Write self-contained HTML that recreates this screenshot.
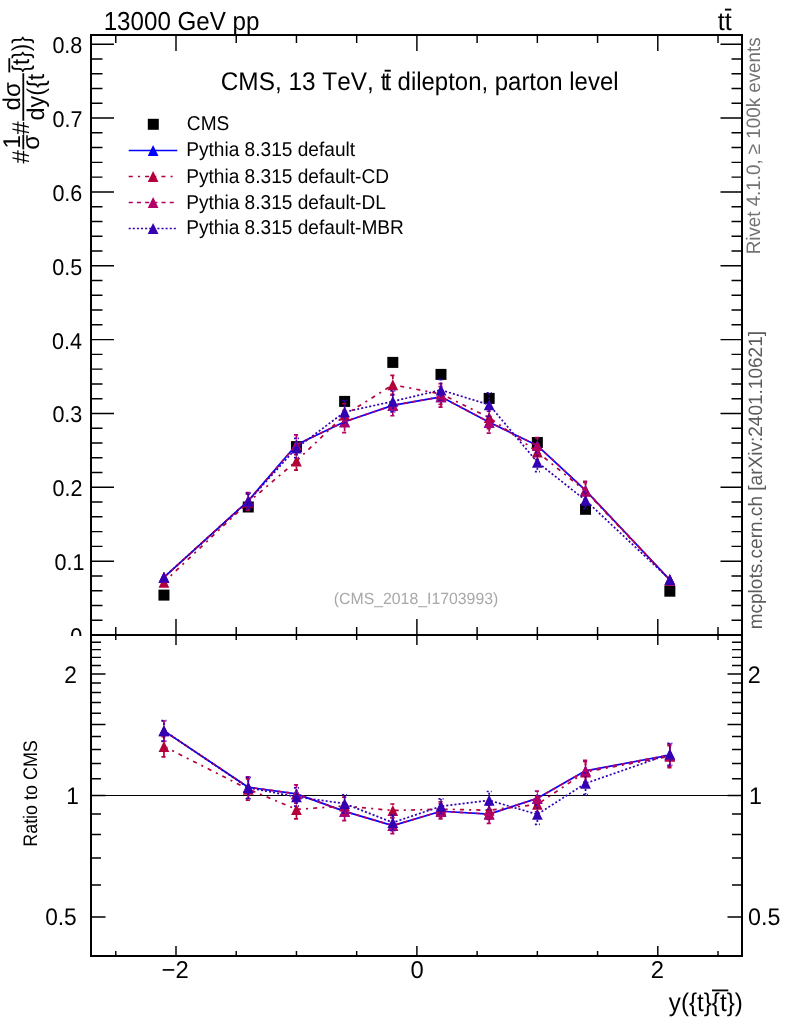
<!DOCTYPE html>
<html><head><meta charset="utf-8"><title>plot</title>
<style>html,body{margin:0;padding:0;background:#fff}svg{display:block;will-change:transform;opacity:0.999}svg text{text-rendering:geometricPrecision;font-kerning:none;font-variant-ligatures:none}</style></head>
<body>
<svg width="786" height="1024" viewBox="0 0 786 1024">
<rect width="786" height="1024" fill="#fff"/>
<g id="main">
<rect x="158.45" y="589.60" width="11.0" height="11.0" fill="#000"/>
<rect x="242.77" y="501.50" width="11.0" height="11.0" fill="#000"/>
<rect x="290.95" y="441.10" width="11.0" height="11.0" fill="#000"/>
<rect x="339.13" y="395.90" width="11.0" height="11.0" fill="#000"/>
<rect x="387.31" y="356.90" width="11.0" height="11.0" fill="#000"/>
<rect x="435.49" y="368.90" width="11.0" height="11.0" fill="#000"/>
<rect x="483.67" y="392.90" width="11.0" height="11.0" fill="#000"/>
<rect x="531.85" y="437.00" width="11.0" height="11.0" fill="#000"/>
<rect x="580.03" y="503.80" width="11.0" height="11.0" fill="#000"/>
<rect x="664.35" y="585.70" width="11.0" height="11.0" fill="#000"/>
<polyline points="163.95,577.30 248.27,500.80 296.45,444.80 344.63,421.70 392.81,405.40 440.99,396.80 489.17,422.20 537.35,445.60 585.53,490.30 669.85,579.80" fill="none" stroke="#0000ff" stroke-width="1.7" stroke-linejoin="round"/>
<path d="M158.60 582.75L169.30 582.75L163.95 571.85Z" fill="#0000ff"/>
<path d="M242.92 506.25L253.62 506.25L248.27 495.35Z" fill="#0000ff"/>
<path d="M291.10 450.25L301.80 450.25L296.45 439.35Z" fill="#0000ff"/>
<path d="M339.28 427.15L349.98 427.15L344.63 416.25Z" fill="#0000ff"/>
<path d="M387.46 410.85L398.16 410.85L392.81 399.95Z" fill="#0000ff"/>
<path d="M435.64 402.25L446.34 402.25L440.99 391.35Z" fill="#0000ff"/>
<path d="M483.82 427.65L494.52 427.65L489.17 416.75Z" fill="#0000ff"/>
<path d="M532.00 451.05L542.70 451.05L537.35 440.15Z" fill="#0000ff"/>
<path d="M580.18 495.75L590.88 495.75L585.53 484.85Z" fill="#0000ff"/>
<path d="M664.50 585.25L675.20 585.25L669.85 574.35Z" fill="#0000ff"/>
<polyline points="163.95,582.20 248.27,502.30 296.45,461.00 344.63,415.00 392.81,384.80 440.99,394.00 489.17,417.50 537.35,452.00 585.53,491.20 669.85,580.20" fill="none" stroke="#b3003a" stroke-width="1.7" stroke-dasharray="4.1 5.1 2.05 5.1" stroke-linejoin="round"/>

<path d="M248.27 496.80V494.21M245.77 494.21h5.0M248.27 507.80V510.39M245.77 510.39h5.0" stroke="#b3003a" stroke-width="1.7" fill="none" stroke-dasharray="4.1 5.1 2.05 5.1"/>
<path d="M296.45 455.50V451.95M293.95 451.95h5.0M296.45 466.50V470.05M293.95 470.05h5.0" stroke="#b3003a" stroke-width="1.7" fill="none" stroke-dasharray="4.1 5.1 2.05 5.1"/>
<path d="M344.63 409.50V403.67M342.13 403.67h5.0M344.63 420.50V426.33M342.13 426.33h5.0" stroke="#b3003a" stroke-width="1.7" fill="none" stroke-dasharray="4.1 5.1 2.05 5.1"/>
<path d="M392.81 379.30V375.29M390.31 375.29h5.0M392.81 390.30V394.31M390.31 394.31h5.0" stroke="#b3003a" stroke-width="1.7" fill="none" stroke-dasharray="4.1 5.1 2.05 5.1"/>
<path d="M440.99 388.50V383.64M438.49 383.64h5.0M440.99 399.50V404.36M438.49 404.36h5.0" stroke="#b3003a" stroke-width="1.7" fill="none" stroke-dasharray="4.1 5.1 2.05 5.1"/>
<path d="M489.17 412.00V406.30M486.67 406.30h5.0M489.17 423.00V428.70M486.67 428.70h5.0" stroke="#b3003a" stroke-width="1.7" fill="none" stroke-dasharray="4.1 5.1 2.05 5.1"/>
<path d="M537.35 446.50V444.31M534.85 444.31h5.0M537.35 457.50V459.69M534.85 459.69h5.0" stroke="#b3003a" stroke-width="1.7" fill="none" stroke-dasharray="4.1 5.1 2.05 5.1"/>
<path d="M585.53 485.70V482.28M583.03 482.28h5.0M585.53 496.70V500.12M583.03 500.12h5.0" stroke="#b3003a" stroke-width="1.7" fill="none" stroke-dasharray="4.1 5.1 2.05 5.1"/>

<path d="M158.60 587.65L169.30 587.65L163.95 576.75Z" fill="#b3003a"/>
<path d="M242.92 507.75L253.62 507.75L248.27 496.85Z" fill="#b3003a"/>
<path d="M291.10 466.45L301.80 466.45L296.45 455.55Z" fill="#b3003a"/>
<path d="M339.28 420.45L349.98 420.45L344.63 409.55Z" fill="#b3003a"/>
<path d="M387.46 390.25L398.16 390.25L392.81 379.35Z" fill="#b3003a"/>
<path d="M435.64 399.45L446.34 399.45L440.99 388.55Z" fill="#b3003a"/>
<path d="M483.82 422.95L494.52 422.95L489.17 412.05Z" fill="#b3003a"/>
<path d="M532.00 457.45L542.70 457.45L537.35 446.55Z" fill="#b3003a"/>
<path d="M580.18 496.65L590.88 496.65L585.53 485.75Z" fill="#b3003a"/>
<path d="M664.50 585.65L675.20 585.65L669.85 574.75Z" fill="#b3003a"/>
<polyline points="163.95,577.30 248.27,500.80 296.45,444.80 344.63,421.70 392.81,405.40 440.99,396.80 489.17,422.20 537.35,445.60 585.53,490.30 669.85,579.80" fill="none" stroke="#b30066" stroke-width="1.7" stroke-dasharray="4.1 4.1" stroke-linejoin="round"/>

<path d="M248.27 495.30V492.61M245.77 492.61h5.0M248.27 506.30V508.99M245.77 508.99h5.0" stroke="#b30066" stroke-width="1.7" fill="none" stroke-dasharray="4.1 4.1"/>
<path d="M296.45 439.30V434.91M293.95 434.91h5.0M296.45 450.30V454.69M293.95 454.69h5.0" stroke="#b30066" stroke-width="1.7" fill="none" stroke-dasharray="4.1 4.1"/>
<path d="M344.63 416.20V410.72M342.13 410.72h5.0M344.63 427.20V432.68M342.13 432.68h5.0" stroke="#b30066" stroke-width="1.7" fill="none" stroke-dasharray="4.1 4.1"/>
<path d="M392.81 399.90V395.07M390.31 395.07h5.0M392.81 410.90V415.73M390.31 415.73h5.0" stroke="#b30066" stroke-width="1.7" fill="none" stroke-dasharray="4.1 4.1"/>
<path d="M440.99 391.30V386.56M438.49 386.56h5.0M440.99 402.30V407.04M438.49 407.04h5.0" stroke="#b30066" stroke-width="1.7" fill="none" stroke-dasharray="4.1 4.1"/>
<path d="M489.17 416.70V411.24M486.67 411.24h5.0M489.17 427.70V433.16M486.67 433.16h5.0" stroke="#b30066" stroke-width="1.7" fill="none" stroke-dasharray="4.1 4.1"/>
<path d="M537.35 440.10V437.65M534.85 437.65h5.0M537.35 451.10V453.55M534.85 453.55h5.0" stroke="#b30066" stroke-width="1.7" fill="none" stroke-dasharray="4.1 4.1"/>
<path d="M585.53 484.80V481.33M583.03 481.33h5.0M585.53 495.80V499.27M583.03 499.27h5.0" stroke="#b30066" stroke-width="1.7" fill="none" stroke-dasharray="4.1 4.1"/>

<path d="M158.60 582.75L169.30 582.75L163.95 571.85Z" fill="#b30066"/>
<path d="M242.92 506.25L253.62 506.25L248.27 495.35Z" fill="#b30066"/>
<path d="M291.10 450.25L301.80 450.25L296.45 439.35Z" fill="#b30066"/>
<path d="M339.28 427.15L349.98 427.15L344.63 416.25Z" fill="#b30066"/>
<path d="M387.46 410.85L398.16 410.85L392.81 399.95Z" fill="#b30066"/>
<path d="M435.64 402.25L446.34 402.25L440.99 391.35Z" fill="#b30066"/>
<path d="M483.82 427.65L494.52 427.65L489.17 416.75Z" fill="#b30066"/>
<path d="M532.00 451.05L542.70 451.05L537.35 440.15Z" fill="#b30066"/>
<path d="M580.18 495.75L590.88 495.75L585.53 484.85Z" fill="#b30066"/>
<path d="M664.50 585.25L675.20 585.25L669.85 574.35Z" fill="#b30066"/>
<polyline points="163.95,577.20 248.27,501.20 296.45,448.00 344.63,412.00 392.81,401.40 440.99,390.00 489.17,404.80 537.35,462.20 585.53,500.30 669.85,579.50" fill="none" stroke="#3300b3" stroke-width="1.7" stroke-dasharray="2.05 2.05" stroke-linejoin="round"/>

<path d="M248.27 495.70V493.04M245.77 493.04h5.0M248.27 506.70V509.36M245.77 509.36h5.0" stroke="#3300b3" stroke-width="1.7" fill="none" stroke-dasharray="2.05 2.05"/>
<path d="M296.45 442.50V438.28M293.95 438.28h5.0M296.45 453.50V457.72M293.95 457.72h5.0" stroke="#3300b3" stroke-width="1.7" fill="none" stroke-dasharray="2.05 2.05"/>
<path d="M344.63 406.50V400.52M342.13 400.52h5.0M344.63 417.50V423.48M342.13 423.48h5.0" stroke="#3300b3" stroke-width="1.7" fill="none" stroke-dasharray="2.05 2.05"/>
<path d="M392.81 395.90V390.89M390.31 390.89h5.0M392.81 406.90V411.91M390.31 411.91h5.0" stroke="#3300b3" stroke-width="1.7" fill="none" stroke-dasharray="2.05 2.05"/>
<path d="M440.99 384.50V379.46M438.49 379.46h5.0M440.99 395.50V400.54M438.49 400.54h5.0" stroke="#3300b3" stroke-width="1.7" fill="none" stroke-dasharray="2.05 2.05"/>
<path d="M489.17 399.30V392.94M486.67 392.94h5.0M489.17 410.30V416.66M486.67 416.66h5.0" stroke="#3300b3" stroke-width="1.7" fill="none" stroke-dasharray="2.05 2.05"/>
<path d="M537.35 456.70V452.70M534.85 452.70h5.0M537.35 467.70V471.70M534.85 471.70h5.0" stroke="#3300b3" stroke-width="1.7" fill="none" stroke-dasharray="2.05 2.05"/>
<path d="M585.53 494.80V491.95M583.03 491.95h5.0M585.53 505.80V508.65M583.03 508.65h5.0" stroke="#3300b3" stroke-width="1.7" fill="none" stroke-dasharray="2.05 2.05"/>

<path d="M158.60 582.65L169.30 582.65L163.95 571.75Z" fill="#3300b3"/>
<path d="M242.92 506.65L253.62 506.65L248.27 495.75Z" fill="#3300b3"/>
<path d="M291.10 453.45L301.80 453.45L296.45 442.55Z" fill="#3300b3"/>
<path d="M339.28 417.45L349.98 417.45L344.63 406.55Z" fill="#3300b3"/>
<path d="M387.46 406.85L398.16 406.85L392.81 395.95Z" fill="#3300b3"/>
<path d="M435.64 395.45L446.34 395.45L440.99 384.55Z" fill="#3300b3"/>
<path d="M483.82 410.25L494.52 410.25L489.17 399.35Z" fill="#3300b3"/>
<path d="M532.00 467.65L542.70 467.65L537.35 456.75Z" fill="#3300b3"/>
<path d="M580.18 505.75L590.88 505.75L585.53 494.85Z" fill="#3300b3"/>
<path d="M664.50 584.95L675.20 584.95L669.85 574.05Z" fill="#3300b3"/>
</g>
<g id="ratio">
<path d="M91.0 795.50H742.0" stroke="#000" stroke-width="1.1"/>
<polyline points="163.95,730.89 248.27,787.21 296.45,793.83 344.63,811.42 392.81,825.57 440.99,811.24 489.17,814.07 537.35,798.34 585.53,770.84 669.85,754.98" fill="none" stroke="#0000ff" stroke-width="1.7" stroke-linejoin="round"/>
<path d="M158.60 736.34L169.30 736.34L163.95 725.44Z" fill="#0000ff"/>
<path d="M242.92 792.66L253.62 792.66L248.27 781.76Z" fill="#0000ff"/>
<path d="M291.10 799.28L301.80 799.28L296.45 788.38Z" fill="#0000ff"/>
<path d="M339.28 816.87L349.98 816.87L344.63 805.97Z" fill="#0000ff"/>
<path d="M387.46 831.02L398.16 831.02L392.81 820.12Z" fill="#0000ff"/>
<path d="M435.64 816.69L446.34 816.69L440.99 805.79Z" fill="#0000ff"/>
<path d="M483.82 819.52L494.52 819.52L489.17 808.62Z" fill="#0000ff"/>
<path d="M532.00 803.79L542.70 803.79L537.35 792.89Z" fill="#0000ff"/>
<path d="M580.18 776.29L590.88 776.29L585.53 765.39Z" fill="#0000ff"/>
<path d="M664.50 760.43L675.20 760.43L669.85 749.53Z" fill="#0000ff"/>
<polyline points="163.95,746.43 248.27,789.18 296.45,809.43 344.63,806.01 392.81,810.52 440.99,809.20 489.17,810.24 537.35,804.36 585.53,771.94 669.85,756.25" fill="none" stroke="#b3003a" stroke-width="1.7" stroke-dasharray="4.1 5.1 2.05 5.1" stroke-linejoin="round"/>
<path d="M163.95 740.93V736.56M161.45 736.56h5.0M163.95 751.93V756.90M161.45 756.90h5.0" stroke="#b3003a" stroke-width="1.7" fill="none" stroke-dasharray="4.1 5.1 2.05 5.1"/>
<path d="M248.27 783.68V778.81M245.77 778.81h5.0M248.27 794.68V800.21M245.77 800.21h5.0" stroke="#b3003a" stroke-width="1.7" fill="none" stroke-dasharray="4.1 5.1 2.05 5.1"/>
<path d="M296.45 803.93V800.55M293.95 800.55h5.0M296.45 814.93V818.78M293.95 818.78h5.0" stroke="#b3003a" stroke-width="1.7" fill="none" stroke-dasharray="4.1 5.1 2.05 5.1"/>
<path d="M344.63 800.51V797.21M342.13 797.21h5.0M344.63 811.51V815.27M342.13 815.27h5.0" stroke="#b3003a" stroke-width="1.7" fill="none" stroke-dasharray="4.1 5.1 2.05 5.1"/>
<path d="M392.81 805.02V803.99M390.31 803.99h5.0M392.81 816.02V817.31M390.31 817.31h5.0" stroke="#b3003a" stroke-width="1.7" fill="none" stroke-dasharray="4.1 5.1 2.05 5.1"/>
<path d="M440.99 803.70V801.82M438.49 801.82h5.0M440.99 814.70V816.89M438.49 816.89h5.0" stroke="#b3003a" stroke-width="1.7" fill="none" stroke-dasharray="4.1 5.1 2.05 5.1"/>
<path d="M489.17 804.74V801.45M486.67 801.45h5.0M489.17 815.74V819.51M486.67 819.51h5.0" stroke="#b3003a" stroke-width="1.7" fill="none" stroke-dasharray="4.1 5.1 2.05 5.1"/>
<path d="M537.35 798.86V797.16M534.85 797.16h5.0M537.35 809.86V811.88M534.85 811.88h5.0" stroke="#b3003a" stroke-width="1.7" fill="none" stroke-dasharray="4.1 5.1 2.05 5.1"/>
<path d="M585.53 766.44V761.40M583.03 761.40h5.0M585.53 777.44V783.15M583.03 783.15h5.0" stroke="#b3003a" stroke-width="1.7" fill="none" stroke-dasharray="4.1 5.1 2.05 5.1"/>
<path d="M669.85 750.75V745.55M667.35 745.55h5.0M669.85 761.75V767.65M667.35 767.65h5.0" stroke="#b3003a" stroke-width="1.7" fill="none" stroke-dasharray="4.1 5.1 2.05 5.1"/>
<path d="M158.60 751.88L169.30 751.88L163.95 740.98Z" fill="#b3003a"/>
<path d="M242.92 794.63L253.62 794.63L248.27 783.73Z" fill="#b3003a"/>
<path d="M291.10 814.88L301.80 814.88L296.45 803.98Z" fill="#b3003a"/>
<path d="M339.28 811.46L349.98 811.46L344.63 800.56Z" fill="#b3003a"/>
<path d="M387.46 815.97L398.16 815.97L392.81 805.07Z" fill="#b3003a"/>
<path d="M435.64 814.65L446.34 814.65L440.99 803.75Z" fill="#b3003a"/>
<path d="M483.82 815.69L494.52 815.69L489.17 804.79Z" fill="#b3003a"/>
<path d="M532.00 809.81L542.70 809.81L537.35 798.91Z" fill="#b3003a"/>
<path d="M580.18 777.39L590.88 777.39L585.53 766.49Z" fill="#b3003a"/>
<path d="M664.50 761.70L675.20 761.70L669.85 750.80Z" fill="#b3003a"/>
<polyline points="163.95,730.89 248.27,787.21 296.45,793.83 344.63,811.42 392.81,825.57 440.99,811.24 489.17,814.07 537.35,798.34 585.53,770.84 669.85,754.98" fill="none" stroke="#b30066" stroke-width="1.7" stroke-dasharray="4.1 4.1" stroke-linejoin="round"/>
<path d="M163.95 725.39V721.01M161.45 721.01h5.0M163.95 736.39V741.35M161.45 741.35h5.0" stroke="#b30066" stroke-width="1.7" fill="none" stroke-dasharray="4.1 4.1"/>
<path d="M248.27 781.71V776.84M245.77 776.84h5.0M248.27 792.71V798.24M245.77 798.24h5.0" stroke="#b30066" stroke-width="1.7" fill="none" stroke-dasharray="4.1 4.1"/>
<path d="M296.45 788.33V784.95M293.95 784.95h5.0M296.45 799.33V803.19M293.95 803.19h5.0" stroke="#b30066" stroke-width="1.7" fill="none" stroke-dasharray="4.1 4.1"/>
<path d="M344.63 805.92V802.63M342.13 802.63h5.0M344.63 816.92V820.69M342.13 820.69h5.0" stroke="#b30066" stroke-width="1.7" fill="none" stroke-dasharray="4.1 4.1"/>
<path d="M392.81 820.07V817.86M390.31 817.86h5.0M392.81 831.07V833.63M390.31 833.63h5.0" stroke="#b30066" stroke-width="1.7" fill="none" stroke-dasharray="4.1 4.1"/>
<path d="M440.99 805.74V803.87M438.49 803.87h5.0M440.99 816.74V818.94M438.49 818.94h5.0" stroke="#b30066" stroke-width="1.7" fill="none" stroke-dasharray="4.1 4.1"/>
<path d="M489.17 808.57V805.27M486.67 805.27h5.0M489.17 819.57V823.33M486.67 823.33h5.0" stroke="#b30066" stroke-width="1.7" fill="none" stroke-dasharray="4.1 4.1"/>
<path d="M537.35 792.84V791.14M534.85 791.14h5.0M537.35 803.84V805.86M534.85 805.86h5.0" stroke="#b30066" stroke-width="1.7" fill="none" stroke-dasharray="4.1 4.1"/>
<path d="M585.53 765.34V760.31M583.03 760.31h5.0M585.53 776.34V782.05M583.03 782.05h5.0" stroke="#b30066" stroke-width="1.7" fill="none" stroke-dasharray="4.1 4.1"/>
<path d="M669.85 749.48V744.28M667.35 744.28h5.0M669.85 760.48V766.38M667.35 766.38h5.0" stroke="#b30066" stroke-width="1.7" fill="none" stroke-dasharray="4.1 4.1"/>
<path d="M158.60 736.34L169.30 736.34L163.95 725.44Z" fill="#b30066"/>
<path d="M242.92 792.66L253.62 792.66L248.27 781.76Z" fill="#b30066"/>
<path d="M291.10 799.28L301.80 799.28L296.45 788.38Z" fill="#b30066"/>
<path d="M339.28 816.87L349.98 816.87L344.63 805.97Z" fill="#b30066"/>
<path d="M387.46 831.02L398.16 831.02L392.81 820.12Z" fill="#b30066"/>
<path d="M435.64 816.69L446.34 816.69L440.99 805.79Z" fill="#b30066"/>
<path d="M483.82 819.52L494.52 819.52L489.17 808.62Z" fill="#b30066"/>
<path d="M532.00 803.79L542.70 803.79L537.35 792.89Z" fill="#b30066"/>
<path d="M580.18 776.29L590.88 776.29L585.53 765.39Z" fill="#b30066"/>
<path d="M664.50 760.43L675.20 760.43L669.85 749.53Z" fill="#b30066"/>
<polyline points="163.95,730.58 248.27,787.74 296.45,796.81 344.63,803.63 392.81,822.54 440.99,806.31 489.17,800.30 537.35,814.41 585.53,783.39 669.85,754.03" fill="none" stroke="#3300b3" stroke-width="1.7" stroke-dasharray="2.05 2.05" stroke-linejoin="round"/>
<path d="M163.95 725.08V720.71M161.45 720.71h5.0M163.95 736.08V741.05M161.45 741.05h5.0" stroke="#3300b3" stroke-width="1.7" fill="none" stroke-dasharray="2.05 2.05"/>
<path d="M248.27 782.24V777.37M245.77 777.37h5.0M248.27 793.24V798.76M245.77 798.76h5.0" stroke="#3300b3" stroke-width="1.7" fill="none" stroke-dasharray="2.05 2.05"/>
<path d="M296.45 791.31V787.93M293.95 787.93h5.0M296.45 802.31V806.16M293.95 806.16h5.0" stroke="#3300b3" stroke-width="1.7" fill="none" stroke-dasharray="2.05 2.05"/>
<path d="M344.63 798.13V794.84M342.13 794.84h5.0M344.63 809.13V812.90M342.13 812.90h5.0" stroke="#3300b3" stroke-width="1.7" fill="none" stroke-dasharray="2.05 2.05"/>
<path d="M392.81 817.04V814.83M390.31 814.83h5.0M392.81 828.04V830.61M390.31 830.61h5.0" stroke="#3300b3" stroke-width="1.7" fill="none" stroke-dasharray="2.05 2.05"/>
<path d="M440.99 800.81V798.94M438.49 798.94h5.0M440.99 811.81V814.01M438.49 814.01h5.0" stroke="#3300b3" stroke-width="1.7" fill="none" stroke-dasharray="2.05 2.05"/>
<path d="M489.17 794.80V791.51M486.67 791.51h5.0M489.17 805.80V809.56M486.67 809.56h5.0" stroke="#3300b3" stroke-width="1.7" fill="none" stroke-dasharray="2.05 2.05"/>
<path d="M537.35 808.91V805.03M534.85 805.03h5.0M537.35 819.91V824.32M534.85 824.32h5.0" stroke="#3300b3" stroke-width="1.7" fill="none" stroke-dasharray="2.05 2.05"/>
<path d="M585.53 777.89V772.85M583.03 772.85h5.0M585.53 788.89V794.60M583.03 794.60h5.0" stroke="#3300b3" stroke-width="1.7" fill="none" stroke-dasharray="2.05 2.05"/>
<path d="M669.85 748.53V743.33M667.35 743.33h5.0M669.85 759.53V765.43M667.35 765.43h5.0" stroke="#3300b3" stroke-width="1.7" fill="none" stroke-dasharray="2.05 2.05"/>
<path d="M158.60 736.03L169.30 736.03L163.95 725.13Z" fill="#3300b3"/>
<path d="M242.92 793.19L253.62 793.19L248.27 782.29Z" fill="#3300b3"/>
<path d="M291.10 802.26L301.80 802.26L296.45 791.36Z" fill="#3300b3"/>
<path d="M339.28 809.08L349.98 809.08L344.63 798.18Z" fill="#3300b3"/>
<path d="M387.46 827.99L398.16 827.99L392.81 817.09Z" fill="#3300b3"/>
<path d="M435.64 811.76L446.34 811.76L440.99 800.86Z" fill="#3300b3"/>
<path d="M483.82 805.75L494.52 805.75L489.17 794.85Z" fill="#3300b3"/>
<path d="M532.00 819.86L542.70 819.86L537.35 808.96Z" fill="#3300b3"/>
<path d="M580.18 788.84L590.88 788.84L585.53 777.94Z" fill="#3300b3"/>
<path d="M664.50 759.48L675.20 759.48L669.85 748.58Z" fill="#3300b3"/>
</g>
<g stroke="#000" stroke-width="1.45" fill="none">
<path d="M91.0 635.00h23M742.0 635.00h-21.5"/>
<path d="M91.0 620.23h11.5M742.0 620.23h-10.5"/>
<path d="M91.0 605.46h11.5M742.0 605.46h-10.5"/>
<path d="M91.0 590.69h11.5M742.0 590.69h-10.5"/>
<path d="M91.0 575.92h11.5M742.0 575.92h-10.5"/>
<path d="M91.0 561.15h23M742.0 561.15h-21.5"/>
<path d="M91.0 546.38h11.5M742.0 546.38h-10.5"/>
<path d="M91.0 531.61h11.5M742.0 531.61h-10.5"/>
<path d="M91.0 516.84h11.5M742.0 516.84h-10.5"/>
<path d="M91.0 502.07h11.5M742.0 502.07h-10.5"/>
<path d="M91.0 487.30h23M742.0 487.30h-21.5"/>
<path d="M91.0 472.53h11.5M742.0 472.53h-10.5"/>
<path d="M91.0 457.76h11.5M742.0 457.76h-10.5"/>
<path d="M91.0 442.99h11.5M742.0 442.99h-10.5"/>
<path d="M91.0 428.22h11.5M742.0 428.22h-10.5"/>
<path d="M91.0 413.45h23M742.0 413.45h-21.5"/>
<path d="M91.0 398.68h11.5M742.0 398.68h-10.5"/>
<path d="M91.0 383.91h11.5M742.0 383.91h-10.5"/>
<path d="M91.0 369.14h11.5M742.0 369.14h-10.5"/>
<path d="M91.0 354.37h11.5M742.0 354.37h-10.5"/>
<path d="M91.0 339.60h23M742.0 339.60h-21.5"/>
<path d="M91.0 324.83h11.5M742.0 324.83h-10.5"/>
<path d="M91.0 310.06h11.5M742.0 310.06h-10.5"/>
<path d="M91.0 295.29h11.5M742.0 295.29h-10.5"/>
<path d="M91.0 280.52h11.5M742.0 280.52h-10.5"/>
<path d="M91.0 265.75h23M742.0 265.75h-21.5"/>
<path d="M91.0 250.98h11.5M742.0 250.98h-10.5"/>
<path d="M91.0 236.21h11.5M742.0 236.21h-10.5"/>
<path d="M91.0 221.44h11.5M742.0 221.44h-10.5"/>
<path d="M91.0 206.67h11.5M742.0 206.67h-10.5"/>
<path d="M91.0 191.90h23M742.0 191.90h-21.5"/>
<path d="M91.0 177.13h11.5M742.0 177.13h-10.5"/>
<path d="M91.0 162.36h11.5M742.0 162.36h-10.5"/>
<path d="M91.0 147.59h11.5M742.0 147.59h-10.5"/>
<path d="M91.0 132.82h11.5M742.0 132.82h-10.5"/>
<path d="M91.0 118.05h23M742.0 118.05h-21.5"/>
<path d="M91.0 103.28h11.5M742.0 103.28h-10.5"/>
<path d="M91.0 88.51h11.5M742.0 88.51h-10.5"/>
<path d="M91.0 73.74h11.5M742.0 73.74h-10.5"/>
<path d="M91.0 58.97h11.5M742.0 58.97h-10.5"/>
<path d="M91.0 44.20h23M742.0 44.20h-21.5"/>
<path d="M115.77 635.0v-8M115.77 35.0v8"/>
<path d="M176.00 635.0v-16M176.00 35.0v16"/>
<path d="M236.22 635.0v-8M236.22 35.0v8"/>
<path d="M296.45 635.0v-8M296.45 35.0v8"/>
<path d="M356.67 635.0v-8M356.67 35.0v8"/>
<path d="M416.90 635.0v-16M416.90 35.0v16"/>
<path d="M477.12 635.0v-8M477.12 35.0v8"/>
<path d="M537.35 635.0v-8M537.35 35.0v8"/>
<path d="M597.58 635.0v-8M597.58 35.0v8"/>
<path d="M657.80 635.0v-16M657.80 35.0v16"/>
<path d="M718.02 635.0v-8M718.02 35.0v8"/>
<path d="M91.0 956.00h10M742.0 956.00h-10"/>
<path d="M91.0 916.91h14.5M742.0 916.91h-14.5"/>
<path d="M91.0 884.98h10M742.0 884.98h-10"/>
<path d="M91.0 857.98h10M742.0 857.98h-10"/>
<path d="M91.0 834.59h10M742.0 834.59h-10"/>
<path d="M91.0 813.96h10M742.0 813.96h-10"/>
<path d="M91.0 795.50h14.5M742.0 795.50h-14.5"/>
<path d="M91.0 778.81h10M742.0 778.81h-10"/>
<path d="M91.0 763.56h10M742.0 763.56h-10"/>
<path d="M91.0 749.54h10M742.0 749.54h-10"/>
<path d="M91.0 736.56h10M742.0 736.56h-10"/>
<path d="M91.0 724.48h14.5M742.0 724.48h-14.5"/>
<path d="M91.0 713.17h10M742.0 713.17h-10"/>
<path d="M91.0 702.55h10M742.0 702.55h-10"/>
<path d="M91.0 692.54h10M742.0 692.54h-10"/>
<path d="M91.0 683.07h10M742.0 683.07h-10"/>
<path d="M91.0 674.09h14.5M742.0 674.09h-14.5"/>
<path d="M91.0 665.54h10M742.0 665.54h-10"/>
<path d="M91.0 657.39h10M742.0 657.39h-10"/>
<path d="M91.0 649.61h10M742.0 649.61h-10"/>
<path d="M91.0 642.15h10M742.0 642.15h-10"/>
<path d="M91.0 635.00h14.5M742.0 635.00h-14.5"/>
<path d="M115.77 956.0v-5M115.77 635.0v5"/>
<path d="M176.00 956.0v-10M176.00 635.0v10"/>
<path d="M236.22 956.0v-5M236.22 635.0v5"/>
<path d="M296.45 956.0v-5M296.45 635.0v5"/>
<path d="M356.67 956.0v-5M356.67 635.0v5"/>
<path d="M416.90 956.0v-10M416.90 635.0v10"/>
<path d="M477.12 956.0v-5M477.12 635.0v5"/>
<path d="M537.35 956.0v-5M537.35 635.0v5"/>
<path d="M597.58 956.0v-5M597.58 635.0v5"/>
<path d="M657.80 956.0v-10M657.80 635.0v10"/>
<path d="M718.02 956.0v-5M718.02 635.0v5"/>
</g>
<g stroke="#000" stroke-width="2" fill="none" stroke-linecap="square">
<path d="M91.0 35.0H742.0V956.0H91.0Z"/><path d="M91.0 635.0H742.0"/>
</g>
<text transform="translate(54.51 570.15) scale(0.9400 1)" font-family="Liberation Sans, sans-serif" font-size="22.9" fill="#000" >0.1</text>
<text transform="translate(52.56 496.30) scale(0.9400 1)" font-family="Liberation Sans, sans-serif" font-size="22.9" fill="#000" >0.2</text>
<text transform="translate(52.40 422.45) scale(0.9400 1)" font-family="Liberation Sans, sans-serif" font-size="22.9" fill="#000" >0.3</text>
<text transform="translate(52.10 348.60) scale(0.9400 1)" font-family="Liberation Sans, sans-serif" font-size="22.9" fill="#000" >0.4</text>
<text transform="translate(52.36 274.75) scale(0.9400 1)" font-family="Liberation Sans, sans-serif" font-size="22.9" fill="#000" >0.5</text>
<text transform="translate(52.40 200.90) scale(0.9400 1)" font-family="Liberation Sans, sans-serif" font-size="22.9" fill="#000" >0.6</text>
<text transform="translate(52.56 127.05) scale(0.9400 1)" font-family="Liberation Sans, sans-serif" font-size="22.9" fill="#000" >0.7</text>
<text transform="translate(52.40 53.20) scale(0.9400 1)" font-family="Liberation Sans, sans-serif" font-size="22.9" fill="#000" >0.8</text>
<clipPath id="c0"><rect x="0" y="600" width="91" height="36.0"/></clipPath>
<g clip-path="url(#c0)">
<text transform="translate(70.25 644.00) scale(0.9400 1)" font-family="Liberation Sans, sans-serif" font-size="22.9" fill="#000" >0</text>
</g>
<text transform="translate(64.31 683.09) scale(0.9500 1)" font-family="Liberation Sans, sans-serif" font-size="23.9" fill="#000" >2</text>
<text transform="translate(747.73 683.09) scale(0.9750 1)" font-family="Liberation Sans, sans-serif" font-size="23.9" fill="#000" >2</text>
<text transform="translate(66.37 804.10) scale(0.9500 1)" font-family="Liberation Sans, sans-serif" font-size="23.9" fill="#000" >1</text>
<text transform="translate(748.93 804.10) scale(0.9750 1)" font-family="Liberation Sans, sans-serif" font-size="23.9" fill="#000" >1</text>
<text transform="translate(45.17 925.11) scale(0.9500 1)" font-family="Liberation Sans, sans-serif" font-size="23.9" fill="#000" >0.5</text>
<text transform="translate(747.99 925.11) scale(0.9750 1)" font-family="Liberation Sans, sans-serif" font-size="23.9" fill="#000" >0.5</text>
<text transform="translate(161.54 977.70) scale(0.9800 1)" font-family="Liberation Sans, sans-serif" font-size="24.3" fill="#000" >−2</text>
<text transform="translate(410.57 977.70) scale(0.9800 1)" font-family="Liberation Sans, sans-serif" font-size="24.3" fill="#000" >0</text>
<text transform="translate(650.78 977.70) scale(0.9800 1)" font-family="Liberation Sans, sans-serif" font-size="24.3" fill="#000" >2</text>
<text transform="translate(103.66 29.50) scale(0.9293 1)" font-family="Liberation Sans, sans-serif" font-size="26.0" fill="#000" >13000 GeV pp</text>
<text transform="translate(717.82 29.50) scale(0.9805 1)" font-family="Liberation Sans, sans-serif" font-size="25.6" fill="#000" >tt</text>
<path d="M724.9 9.6H731.3" stroke="#000" stroke-width="1.9"/>
<text transform="translate(220.78 89.50) scale(0.9518 1)" font-family="Liberation Sans, sans-serif" font-size="25.6" fill="#000" >CMS, 13 TeV,</text>
<text transform="translate(380.65 89.50) scale(0.9155 1)" font-family="Liberation Sans, sans-serif" font-size="25.6" fill="#000" >t</text>
<text transform="translate(384.44 89.50) scale(0.9460 1)" font-family="Liberation Sans, sans-serif" font-size="25.6" fill="#000" >t</text>
<path d="M384.6 70.7H390.8" stroke="#000" stroke-width="1.9"/>
<text transform="translate(397.59 89.50) scale(0.9354 1)" font-family="Liberation Sans, sans-serif" font-size="25.6" fill="#000" >dilepton, parton level</text>
<rect x="147.80" y="118.80" width="11.0" height="11.0" fill="#000"/>
<text transform="translate(186.84 130.00) scale(0.9550 1)" font-family="Liberation Sans, sans-serif" font-size="20.0" fill="#000" >CMS</text>
<polyline points="128.70,150.50 177.30,150.50" fill="none" stroke="#0000ff" stroke-width="1.7" stroke-linejoin="round"/>
<path d="M147.75 155.95L158.45 155.95L153.10 145.05Z" fill="#0000ff"/>
<text transform="translate(186.23 155.95) scale(0.9550 1)" font-family="Liberation Sans, sans-serif" font-size="20.0" fill="#000" >Pythia 8.315 default</text>
<polyline points="128.70,176.50 177.30,176.50" fill="none" stroke="#b3003a" stroke-width="1.7" stroke-dasharray="4.1 5.1 2.05 5.1" stroke-linejoin="round"/>
<path d="M147.75 181.95L158.45 181.95L153.10 171.05Z" fill="#b3003a"/>
<text transform="translate(186.23 182.50) scale(0.9550 1)" font-family="Liberation Sans, sans-serif" font-size="20.0" fill="#000" >Pythia 8.315 default-CD</text>
<polyline points="128.70,202.50 177.30,202.50" fill="none" stroke="#b30066" stroke-width="1.7" stroke-dasharray="4.1 4.1" stroke-linejoin="round"/>
<path d="M147.75 207.95L158.45 207.95L153.10 197.05Z" fill="#b30066"/>
<text transform="translate(186.23 208.50) scale(0.9550 1)" font-family="Liberation Sans, sans-serif" font-size="20.0" fill="#000" >Pythia 8.315 default-DL</text>
<polyline points="128.70,228.50 177.30,228.50" fill="none" stroke="#3300b3" stroke-width="1.7" stroke-dasharray="2.05 2.05" stroke-linejoin="round"/>
<path d="M147.75 233.95L158.45 233.95L153.10 223.05Z" fill="#3300b3"/>
<text transform="translate(186.23 233.80) scale(0.9550 1)" font-family="Liberation Sans, sans-serif" font-size="20.0" fill="#000" >Pythia 8.315 default-MBR</text>
<text transform="translate(333.82 604.20) scale(0.9771 1)" font-family="Liberation Sans, sans-serif" font-size="16.2" fill="#a8a8a8" >(CMS_2018_I1703993)</text>
<text transform="translate(760.00 254.34) rotate(-90) scale(0.9627 1)" font-family="Liberation Sans, sans-serif" font-size="19.5" fill="#737373">Rivet 4.1.0, ≥ 100k events</text>
<text transform="translate(762.00 629.36) rotate(-90) scale(0.9819 1)" font-family="Liberation Sans, sans-serif" font-size="19.4" fill="#5c5c5c">mcplots.cern.ch [arXiv:2401.10621]</text>
<text transform="translate(36.50 846.77) rotate(-90) scale(0.9144 1)" font-family="Liberation Sans, sans-serif" font-size="19.6" fill="#000">Ratio to CMS</text>
<text transform="translate(668.85 1011.20) scale(0.9447 1)" font-family="Liberation Sans, sans-serif" font-size="25.6" fill="#000" >y({t}{t})</text>
<path d="M712 990.4H728.3" stroke="#000" stroke-width="1.8"/>
<g transform="rotate(-90)" font-family="Liberation Sans, sans-serif" font-size="24.2" fill="#000">
<text x="-163.6" y="29.0">#</text>
<text x="-148.4" y="20.0">1</text>
<path d="M-149.4 23.3H-135" stroke="#000" stroke-width="1.8"/>
<text x="-149.7" y="39.0">σ</text>
<text x="-134.7" y="29.0">#</text>
<path d="M-120.8 23.3H-73.2" stroke="#000" stroke-width="1.8"/>
<text x="-110.4" y="19.5">dσ</text>
<text x="-120.4" y="44.4" textLength="46.6" lengthAdjust="spacingAndGlyphs">dy({t</text>
<text x="-72.4" y="29.0" textLength="36.2" lengthAdjust="spacingAndGlyphs">{t})}</text>
<path d="M-72.4 9.3H-58.2" stroke="#000" stroke-width="1.8"/>
</g>
</svg>
</body></html>
